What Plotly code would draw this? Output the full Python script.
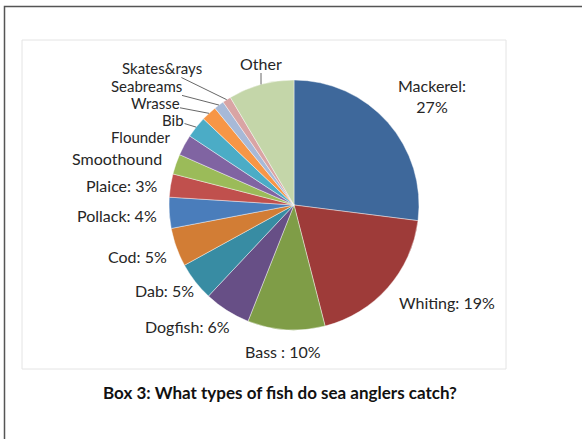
import math
import plotly.graph_objects as go

# ---- data ----
species = ["Mackerel", "Whiting", "Bass", "Dogfish", "Dab", "Cod", "Pollack", "Plaice",
           "Smoothound", "Flounder", "Bib", "Wrasse", "Seabreams", "Skates&rays", "Other"]
share_pct = [27, 19, 10, 6, 5, 5, 4, 3, 2.6, 2.7, 2.8, 2.0, 1.3, 1.1, 8.5]
label_text = ["Mackerel:<br>27%", "Whiting: 19%", "Bass : 10%", "Dogfish: 6%", "Dab: 5%",
              "Cod: 5%", "Pollack: 4%", "Plaice: 3%", "Smoothound", "Flounder", "Bib",
              "Wrasse", "Seabreams", "Skates&rays", "Other"]

# ---- style ----
colors = ["#3E689B", "#9E3B39", "#7F9D47", "#674F86", "#388CA3", "#D27D35", "#4A7DBB",
          "#C0504D", "#9BBB59", "#8064A2", "#4BACC6", "#F79646", "#A7B9D7", "#D9A4A4", "#C4D6A9"]
# label centre positions in pixels, leader line flag, font size
label_pos = {
    "Mackerel": (432, 96, False, 16), "Whiting": (447, 302, False, 16),
    "Bass": (283, 351, False, 16), "Dogfish": (187, 326, False, 16),
    "Dab": (164, 290, False, 16), "Cod": (137, 256, False, 16),
    "Pollack": (117, 215, False, 16), "Plaice": (122, 185, False, 16),
    "Smoothound": (117, 158, False, 16), "Flounder": (140, 137, False, 15),
    "Bib": (173, 120, True, 15), "Wrasse": (155, 103, True, 15),
    "Seabreams": (146, 86, True, 15), "Skates&rays": (162, 68, True, 15),
    "Other": (261, 63, True, 16),
}

W, H = 582, 439
cx, cy, R = 294, 205, 125
FONT = "Lato, 'Open Sans', sans-serif"

fig = go.Figure(go.Pie(
    labels=species, values=share_pct, sort=False, direction="clockwise", rotation=0,
    marker=dict(colors=colors, line=dict(color="rgba(255,255,255,0.7)", width=0.6)),
    textinfo="none", hoverinfo="label+percent", showlegend=False,
    domain=dict(x=[(cx - R) / W, (cx + R) / W], y=[1 - (cy + R) / H, 1 - (cy - R) / H]),
))

annotations = []
total = sum(share_pct)
cum = 0.0
for name, v, txt in zip(species, share_pct, label_text):
    mid = (cum + v / 2) / total * 360.0
    cum += v
    rx = cx + R * math.sin(math.radians(mid))
    ry = cy - R * math.cos(math.radians(mid))
    lx, ly, line, fs = label_pos[name]
    annotations.append(dict(
        x=rx / W, y=1 - ry / H, xref="paper", yref="paper",
        text=txt, showarrow=True, arrowhead=0, arrowwidth=0.8,
        arrowcolor="#404040" if line else "rgba(0,0,0,0)",
        ax=lx - rx, ay=ly - ry, standoff=0, borderpad=0,
        font=dict(family=FONT, size=fs, color="#262626"), align="center",
    ))

annotations.append(dict(
    x=280 / W, y=1 - 405 / H, xref="paper", yref="paper", showarrow=False,
    text="<b>Box 3: What types of fish do sea anglers catch?</b>",
    font=dict(family=FONT, size=17, color="#111111"),
))

shapes = [
    dict(type="rect", xref="paper", yref="paper", x0=4.5 / W, x1=(W + 20) / W,
         y0=-20 / H, y1=1 - 6.5 / H, line=dict(color="#555555", width=1.5)),
    dict(type="rect", xref="paper", yref="paper", x0=22 / W, x1=506 / W,
         y0=1 - 369 / H, y1=1 - 40 / H, line=dict(color="#E4E4E4", width=1)),
]

fig.update_layout(
    width=W, height=H, margin=dict(l=0, r=0, t=0, b=0),
    paper_bgcolor="white", plot_bgcolor="white",
    annotations=annotations, shapes=shapes,
)

fig.write_html("out.html", config={"displayModeBar": False},
               post_script="document.body.style.margin='0';")
